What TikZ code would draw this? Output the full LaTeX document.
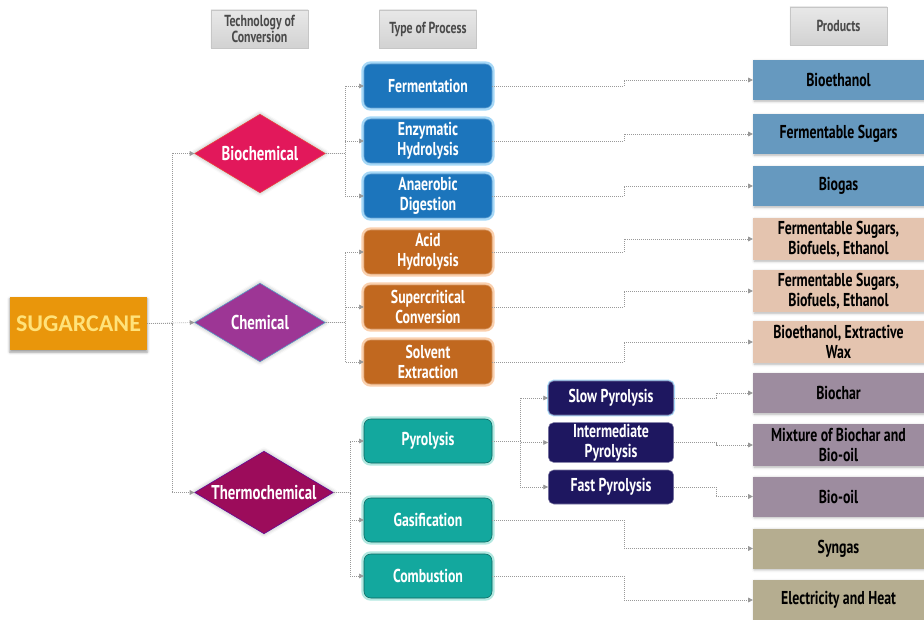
\documentclass[tikz,border=0pt]{standalone}
\usepackage{fontspec}
\setmainfont{PT Sans}[FakeStretch=0.74]
\newfontfamily\canefont{Carlito}
\usetikzlibrary{shapes.geometric,arrows.meta,shadows.blur}

\definecolor{hdrgray}{HTML}{D2D2D2}
\definecolor{hdrtext}{HTML}{4A4A4A}
\definecolor{canefill}{HTML}{E9960B}
\definecolor{canetext}{HTML}{FFE27A}
\definecolor{biofill}{HTML}{E2185B}
\definecolor{chemfill}{HTML}{9D3695}
\definecolor{thermofill}{HTML}{9C0C5B}
\definecolor{blueproc}{HTML}{1C75BC}
\definecolor{blueglow}{HTML}{A6D8F7}
\definecolor{orangeproc}{HTML}{C1681F}
\definecolor{orangeglow}{HTML}{FAD0AE}
\definecolor{tealproc}{HTML}{13A89E}
\definecolor{tealglow}{HTML}{B2E8E0}
\definecolor{navyproc}{HTML}{1E1760}
\definecolor{prodblue}{HTML}{6699BF}
\definecolor{prodpeach}{HTML}{E4C4AF}
\definecolor{prodmauve}{HTML}{9D8C9F}
\definecolor{prodkhaki}{HTML}{B5AD90}

\tikzset{
    link/.style={densely dotted, gray!80, line width=0.5pt,
        -{Triangle[length=3.5pt,width=3.5pt]}},
    header/.style={rectangle, draw=gray!45, top color=gray!18, bottom color=hdrgray,
        minimum width=73pt, minimum height=28.5pt, inner sep=1pt, align=center,
        text=hdrtext, font=\bfseries\fontsize{12}{12.5}\selectfont},
    tech/.style={diamond, aspect=1.65, inner sep=0pt, text=white,
        minimum width=98pt, minimum height=59pt,
        font=\bfseries\fontsize{15}{15}\selectfont,
        blur shadow={shadow xshift=0pt, shadow yshift=0pt, shadow blur radius=3pt, shadow opacity=35}},
    proc/.style={rectangle, rounded corners=5pt, minimum width=96pt, minimum height=33pt,
        inner sep=1pt, align=center, text=white,
        font=\bfseries\fontsize{14}{15}\selectfont},
    procblue/.style={proc, fill=blueproc, draw=blueproc!70!white,
        preaction={draw=blueglow, line width=4pt}},
    procorange/.style={proc, fill=orangeproc, draw=orangeproc!70!white,
        preaction={draw=orangeglow, line width=4pt}},
    procteal/.style={proc, fill=tealproc, draw=tealproc!60!black,
        preaction={draw=tealglow, line width=4pt}},
    subproc/.style={proc, fill=navyproc, draw=navyproc!60!white,
        minimum width=94pt, minimum height=25.5pt, rounded corners=4pt},
    prod/.style={rectangle, minimum width=128pt, minimum height=30pt,
        inner sep=1pt, align=center, text=black,
        font=\bfseries\fontsize{14}{15}\selectfont,
        blur shadow={shadow xshift=0.8pt, shadow yshift=-1pt, shadow blur radius=2pt, shadow opacity=30}},
}

\begin{document}
\begin{tikzpicture}[x=0.75pt, y=-0.75pt]
    \useasboundingbox (0,0) rectangle (924,620);

    % column headers
    \node (hdrtech) [header] at (259.5,29) {Technology of\\Conversion};
    \node (hdrproc) [header] at (428,29) {Type of Process};
    \node (hdrprod) [header] at (838.5,26) {Products};

    % feedstock
    \node (cane) [rectangle, fill=canefill, minimum width=103pt, minimum height=40pt,
        text=canetext, font=\canefont\bfseries\fontsize{18}{18}\selectfont,
        blur shadow={shadow xshift=0pt, shadow yshift=-1.5pt, shadow blur radius=2pt, shadow opacity=40}]
        at (78.5,323.5) {SUGARCANE};

    % technologies
    \node (bio) [tech, fill=biofill, draw=biofill!60!orange] at (260,153.5) {Biochemical};
    \node (chem) [tech, fill=chemfill, draw=chemfill!50!cyan] at (260,322.5) {Chemical};
    \node (thermo) [tech, fill=thermofill, draw=thermofill!60!blue, minimum width=104pt, minimum height=62pt]
        at (264,492.5) {Thermochemical};

    % processes
    \node (ferm) [procblue] at (428,86) {Fermentation};
    \node (enzy) [procblue] at (428,141) {Enzymatic\\Hydrolysis};
    \node (anae) [procblue] at (428,196) {Anaerobic\\Digestion};
    \node (acid) [procorange] at (428,252) {Acid\\Hydrolysis};
    \node (supc) [procorange] at (428,307) {Supercritical\\Conversion};
    \node (solv) [procorange] at (428,362) {Solvent\\Extraction};
    \node (pyro) [procteal] at (428,441) {Pyrolysis};
    \node (gasi) [procteal] at (428,520) {Gasification};
    \node (comb) [procteal] at (428,576) {Combustion};

    \node (slow) [subproc, preaction={draw=blueglow, line width=2pt}] at (611,398) {Slow Pyrolysis};
    \node (inter) [subproc] at (611,442.5) {Intermediate\\Pyrolysis};
    \node (fast) [subproc] at (611,487) {Fast Pyrolysis};

    % products
    \node (pbeth) [prod, fill=prodblue] at (838.5,80) {Bioethanol};
    \node (pfsug) [prod, fill=prodblue] at (838.5,134) {Fermentable Sugars};
    \node (pgas) [prod, fill=prodblue] at (838.5,186) {Biogas};
    \node (pfbe1) [prod, fill=prodpeach, minimum height=31.5pt] at (838.5,239) {Fermentable Sugars,\\Biofuels, Ethanol};
    \node (pfbe2) [prod, fill=prodpeach, minimum height=31.5pt] at (838.5,291) {Fermentable Sugars,\\Biofuels, Ethanol};
    \node (pwax) [prod, fill=prodpeach, minimum height=31.5pt] at (838.5,342) {Bioethanol, Extractive\\Wax};
    \node (pchar) [prod, fill=prodmauve] at (838.5,393) {Biochar};
    \node (pmix) [prod, fill=prodmauve, minimum height=31.5pt] at (838.5,445) {Mixture of Biochar and\\Bio-oil};
    \node (poil) [prod, fill=prodmauve] at (838.5,496.5) {Bio-oil};
    \node (psyn) [prod, fill=prodkhaki] at (838.5,548.5) {Syngas};
    \node (pheat) [prod, fill=prodkhaki] at (838.5,600) {Electricity and Heat};

    % trunk positions of the elbow connectors
    \coordinate (tcane) at (172,0);
    \coordinate (tbio) at (345,0);
    \coordinate (tthermo) at (350,0);
    \coordinate (tpyro) at (520,0);
    \coordinate (tprod) at (624,0);
    \coordinate (tsub) at (716,0);

    \draw[link] (cane.east) -- (cane.east -| tcane) |- (bio.west);
    \draw[link] (cane.east) -- (chem.west);
    \draw[link] (cane.east) -- (cane.east -| tcane) |- (thermo.west);

    \foreach \p in {ferm,enzy,anae}
        \draw[link] (bio.east) -- (bio.east -| tbio) |- (\p.west);
    \foreach \p in {acid,supc,solv}
        \draw[link] (chem.east) -- (chem.east -| tbio) |- (\p.west);
    \foreach \p in {pyro,gasi,comb}
        \draw[link] (thermo.east) -- (thermo.east -| tthermo) |- (\p.west);

    \foreach \s in {slow,inter,fast}
        \draw[link] (pyro.east) -- (pyro.east -| tpyro) |- (\s.west);

    \foreach \a/\b in {ferm/pbeth,enzy/pfsug,anae/pgas,acid/pfbe1,supc/pfbe2,solv/pwax,gasi/psyn,comb/pheat}
        \draw[link] (\a.east) -- (\a.east -| tprod) |- (\b.west);
    \foreach \a/\b in {slow/pchar,inter/pmix,fast/poil}
        \draw[link] (\a.east) -- (\a.east -| tsub) |- (\b.west);
\end{tikzpicture}
\end{document}
